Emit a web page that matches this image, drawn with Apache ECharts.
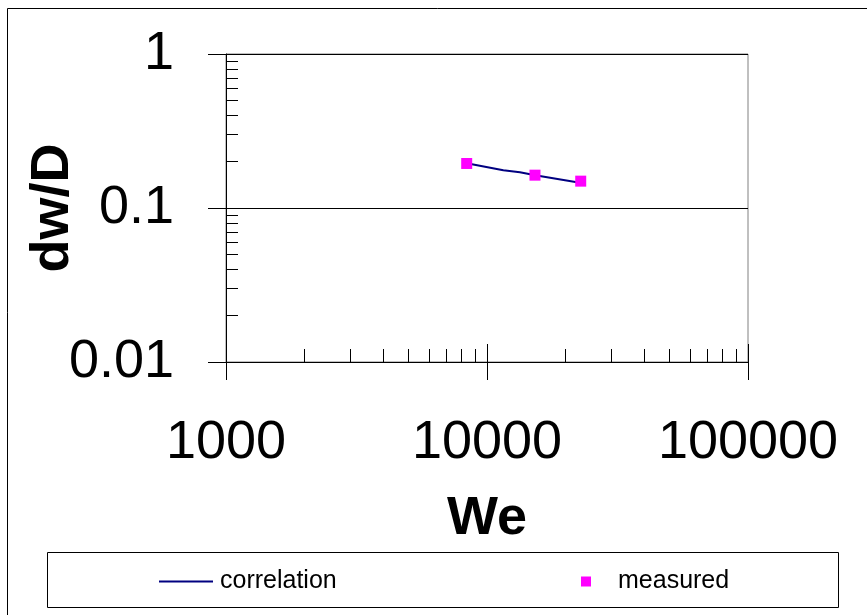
<!DOCTYPE html>
<html>
<head>
<meta charset="utf-8">
<script src="https://cdn.jsdelivr.net/npm/echarts@6/dist/echarts.min.js"></script>
<style>
html,body{margin:0;padding:0;background:#fff;}
#chart{width:867px;height:615px;}
</style>
</head>
<body>
<div id="chart"></div>
<script>
// ---- data ----
var weCorrelation = [8360, 11550, 13370, 15300, 22700];
var dwCorrelation = [0.195, 0.176, 0.1706, 0.163, 0.1457];
var weMeasured = [8360, 15270, 22860];
var dwMeasured = [0.1946, 0.1634, 0.1494];
var xMajorTicks = [1000, 10000, 100000];
var yMajorTicks = [0.01, 0.1, 1];
var xMinorTicks = [2000, 3000, 4000, 5000, 6000, 7000, 8000, 9000, 20000, 30000, 40000, 50000, 60000, 70000, 80000, 90000];
var yMinorTicks = [0.02, 0.03, 0.04, 0.05, 0.06, 0.07, 0.08, 0.09, 0.2, 0.3, 0.4, 0.5, 0.6, 0.7, 0.8, 0.9];
var seriesNames = ['correlation', 'measured'];
var xTitle = 'We';
var yTitle = 'dw/D';

var FONT = '"Liberation Sans", Arial, sans-serif';
var chart = echarts.init(document.getElementById('chart'), null, {renderer: 'canvas'});

function zip(a, b) { return a.map(function (v, i) { return [v, b[i]]; }); }

function baseX(extra) {
  return Object.assign({
    type: 'log', logBase: 10, min: 1000, max: 100000, position: 'bottom', gridIndex: 0,
    axisLine: {show: false}, axisTick: {show: false}, axisLabel: {show: false},
    splitLine: {show: false}, minorTick: {show: false}, minorSplitLine: {show: false}
  }, extra);
}
function baseY(extra) {
  return Object.assign({
    type: 'log', logBase: 10, min: 0.01, max: 1, position: 'left', gridIndex: 0,
    axisLine: {show: false}, axisTick: {show: false}, axisLabel: {show: false},
    splitLine: {show: false}, minorTick: {show: false}, minorSplitLine: {show: false}
  }, extra);
}

var option = {
  backgroundColor: '#ffffff',
  animation: false,
  grid: {left: 226, top: 54, right: 119, bottom: 253, containLabel: false, outerBoundsMode: 'none',
    show: true, borderColor: '#808080', borderWidth: 1, backgroundColor: 'transparent'},
  xAxis: [
    baseX({
      axisLine: {show: true, onZero: false, lineStyle: {color: '#000', width: 1}},
      axisTick: {show: true, inside: true, length: 18, customValues: xMajorTicks, lineStyle: {color: '#000', width: 1}}
    }),
    baseX({
      axisTick: {show: true, inside: false, length: 18, customValues: xMajorTicks, lineStyle: {color: '#000', width: 1}},
      axisLabel: {show: true, customValues: xMajorTicks, margin: 54, color: '#000', fontSize: 54, fontFamily: FONT,
        formatter: function (v) { return String(Math.round(v)); }},
      name: xTitle, nameLocation: 'middle', nameGap: 130, nameMoveOverlap: false,
      nameTextStyle: {color: '#000', fontSize: 54, fontWeight: 'bold', fontFamily: FONT}
    }),
    baseX({
      axisTick: {show: true, inside: true, length: 13, customValues: xMinorTicks, lineStyle: {color: '#000', width: 1}}
    })
  ],
  yAxis: [
    baseY({
      axisLine: {show: true, onZero: false, lineStyle: {color: '#000', width: 1}},
      axisTick: {show: true, inside: true, length: 18, customValues: yMajorTicks, lineStyle: {color: '#000', width: 1}},
      splitLine: {show: true, lineStyle: {color: '#000', width: 1}}
    }),
    baseY({
      axisTick: {show: true, inside: false, length: 18, customValues: yMajorTicks, lineStyle: {color: '#000', width: 1}},
      axisLabel: {show: true, customValues: yMajorTicks, margin: 52, color: '#000', fontSize: 54, fontFamily: FONT,
        formatter: function (v) { return v >= 1 ? '1' : (v >= 0.1 ? '0.1' : '0.01'); }},
      name: yTitle, nameLocation: 'middle', nameGap: 146, nameRotate: 90, nameMoveOverlap: false,
      nameTextStyle: {color: '#000', fontSize: 54, fontWeight: 'bold', fontFamily: FONT}
    }),
    baseY({
      axisTick: {show: true, inside: true, length: 12, customValues: yMinorTicks, lineStyle: {color: '#000', width: 1}}
    })
  ],
  legend: [
    {
      data: [{name: seriesNames[0], icon: 'rect', itemStyle: {color: '#000080'}}], left: 159, top: 569, padding: 0,
      itemWidth: 54, itemHeight: 2, itemGap: 0,
      textStyle: {color: '#000', fontSize: 25, fontFamily: FONT, padding: [0, 0, 0, 2]},
      selectedMode: false
    },
    {
      data: [{name: seriesNames[1], icon: 'rect'}], left: 581, top: 569, padding: 0,
      itemWidth: 10, itemHeight: 10, itemGap: 0,
      textStyle: {color: '#000', fontSize: 25, fontFamily: FONT, padding: [0, 0, 0, 22]},
      selectedMode: false
    }
  ],
  graphic: [
    {type: 'rect', silent: true, z: -1, shape: {x: 7.5, y: 8.5, width: 900, height: 700},
      style: {fill: 'none', stroke: '#000', lineWidth: 1}},
    {type: 'rect', silent: true, z: -1, shape: {x: 47.5, y: 552.5, width: 791, height: 55},
      style: {fill: 'none', stroke: '#000', lineWidth: 1}}
  ],
  series: [
    {
      name: seriesNames[0], type: 'line', xAxisIndex: 0, yAxisIndex: 0,
      data: zip(weCorrelation, dwCorrelation), symbol: 'none', smooth: false,
      lineStyle: {color: '#000080', width: 2}, itemStyle: {color: '#000080'}, z: 2
    },
    {
      name: seriesNames[1], type: 'scatter', xAxisIndex: 0, yAxisIndex: 0,
      data: zip(weMeasured, dwMeasured), symbol: 'rect', symbolSize: 11,
      itemStyle: {color: '#FF00FF', opacity: 1}, z: 3
    }
  ]
};
chart.setOption(option);
</script>
</body>
</html>
